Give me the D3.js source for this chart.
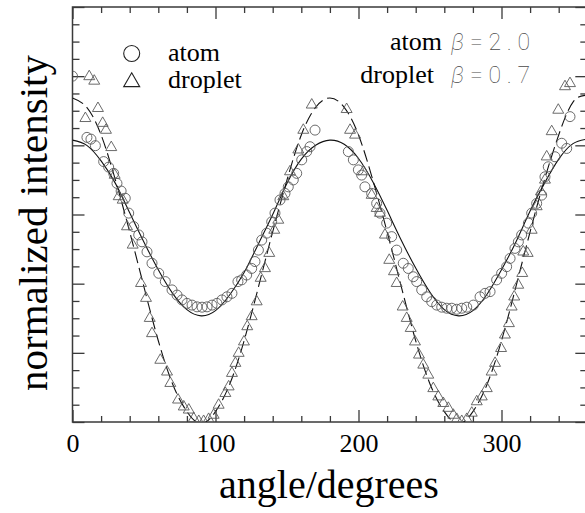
<!DOCTYPE html>
<html>
<head>
<meta charset="utf-8">
<script src="https://cdn.jsdelivr.net/npm/d3@7"></script>
<style>
  body { margin: 0; background: #fff; }
  svg { display: block; }
</style>
</head>
<body>
<div class="chart"></div>
<script>
// angle (degrees) and normalized intensity
const atomAngle = [0, 10.1, 12.9, 16.0, 21.8, 25.3, 28.8, 31.1, 34.0, 36.9, 39.3, 42.8, 46.3, 48.6, 52.1, 55.6,
    60.3, 64.9, 69.6, 73.1, 76.6, 80.1, 83.6, 87.1, 90.6, 94.1, 97.6, 101.0, 104.5, 108.0, 111.5, 115.7,
    118.3, 121.8, 125.3, 127.6, 130.0, 132.3, 135.8, 139.3, 141.6, 145.1, 148.6, 150.9, 154.4, 156.8, 160.3,
    163.8, 166.1, 169.6, 192.9, 196.4, 199.9, 202.2, 204.5, 209.2, 212.7, 215.0, 219.7, 223.2, 226.7, 231.3,
    234.8, 238.3, 240.7, 244.2, 247.7, 251.2, 254.7, 258.2, 261.7, 265.2, 268.7, 272.2, 275.7, 280.3, 285.0,
    288.5, 292.0, 296.6, 300.1, 303.6, 306.0, 309.4, 311.8, 314.1, 318.8, 321.1, 324.6, 328.1, 330.4, 332.7,
    337.4, 342.1, 345.6, 347.9];
const atomValue = [1.0, .823, .818, .799, .753, .737, .719, .690, .668, .647, .604, .565, .541, .521, .492, .459,
    .430, .406, .382, .367, .353, .343, .338, .333, .332, .333, .338, .343, .353, .362, .372, .406,
    .411, .425, .444, .464, .497, .526, .546, .579, .604, .642, .661, .680, .700, .719, .758,
    .782, .796, .844, .782, .758, .729, .714, .680, .661, .632, .604, .575, .536, .497, .459,
    .444, .420, .406, .382, .362, .348, .338, .332, .329, .329, .326, .329, .332, .338, .362,
    .372, .377, .411, .430, .449, .473, .502, .521, .541, .575, .604, .632, .656, .709, .738,
    .767, .806, .791, .883];

const dropletAngle = [9.0, 11.7, 15.2, 17.8, 21.1, 23.4, 27.1, 29.5, 32.3, 35.1, 38.1, 42.1, 47.9, 51.4, 54.0, 55.6,
    61.4, 66.1, 68.4, 73.8, 77.8, 81.3, 84.8, 88.3, 91.7, 95.2, 98.7, 102.2, 106.9, 109.2, 111.5, 113.9, 116.2,
    119.9, 122.2, 125.3, 128.8, 131.6, 134.6, 137.6, 141.1, 143.9, 147.4, 152.1, 157.9, 161.4, 167.3,
    191.7, 194.1, 197.6, 203.4, 209.2, 212.7, 215.0, 218.5, 221.5, 224.8, 226.7, 230.9, 233.7, 236.5, 239.5,
    242.3, 245.3, 248.8, 252.3, 255.8, 259.3, 262.8, 266.3, 268.7, 272.2, 275.7, 279.2, 282.7, 286.2, 289.7,
    293.1, 295.5, 299.7, 302.4, 305.2, 307.1, 308.9, 311.7, 314.5, 315.2, 318.3, 321.1, 324.6, 327.6, 330.4,
    331.6, 335.1, 339.7, 344.4, 347.9];
const dropletValue = [.878, .999, .986, .907, .864, .844, .794, .714, .652, .642, .565, .512, .401, .358, .300, .256,
    .179, .145, .112, .064, .044, .035, .010, .002, .002, .008, .020, .049, .083, .102, .141, .170, .199,
    .232, .276, .305, .348, .416, .444, .488, .555, .584, .652, .724, .787, .844, .917,
    .904, .844, .830, .724, .656, .618, .604, .541, .468, .435, .401, .333, .300, .271, .232,
    .194, .165, .136, .097, .073, .054, .040, .020, .008, .002, .008, .026, .059, .073, .097,
    .145, .170, .213, .252, .285, .333, .362, .396, .430, .492, .488, .555, .623, .666, .700,
    .767, .840, .902, .970, .979];

// fitted curves, read every 10 degrees
const fitAngle = [0, 10, 20, 30, 40, 50, 60, 70, 80, 90, 100, 110, 120, 130, 140, 150, 160, 170, 180,
    190, 200, 210, 220, 230, 240, 250, 260, 270, 280, 290, 300, 310, 320, 330, 340, 350, 360];
const atomFit = [.815, .80, .755, .69, .605, .52, .44, .372, .325, .307, .322, .368, .432, .515, .60, .69, .76, .80, .815,
    .803, .762, .695, .612, .525, .445, .375, .325, .307, .322, .37, .44, .52, .61, .69, .76, .805, .818];
const dropletFit = [.937, .91, .83, .70, .55, .39, .235, .11, .03, -.005, .03, .11, .235, .39, .55, .70, .83, .91, .937,
    .91, .83, .70, .55, .39, .235, .11, .03, -.005, .03, .11, .235, .39, .55, .70, .83, .925, .945];

const xMajor = [0, 100, 200, 300];
const legendNames = ["atom", "droplet"];
const betaLines = [["atom", "\u03B2", "=2.0"], ["droplet", "\u03B2", "=0.7"]];

const width = 585, height = 513;
const margin = {top: 7, left: 72.5, bottom: 91, right: -2.3};
const x0 = margin.left, x1 = width - margin.right;
const y0 = height - margin.bottom, y1 = margin.top;

const svg = d3.select(".chart").append("svg")
    .attr("width", width)
    .attr("height", height);

const xScale = d3.scaleLinear().domain([0, 360]).range([x0, x1]);
const yScale = d3.scaleLinear().domain([0, 1.2]).range([y0, y1]);

svg.append("clipPath").attr("id", "plotclip")
    .append("rect")
    .attr("x", x0).attr("y", y1)
    .attr("width", x1 - x0).attr("height", y0 - y1);

const serif = "'Liberation Serif', 'Times New Roman', serif";
const axisColor = "#3a3a3a";

// minor + major ticks, all pointing inwards
const xMinor = d3.range(0, 361, 20).filter(d => d % 100 != 0);
const yMinor = d3.range(0, 1.2001, 0.05).filter((d, i) => i % 4 != 0);
const yMajor = d3.range(0, 1.2001, 0.2);

function styleAxis(g) {
    g.select(".domain").remove();
    g.selectAll("line").attr("stroke", axisColor).attr("stroke-width", 1.3);
}

svg.append("g").attr("transform", `translate(0,${y0})`)
    .call(d3.axisBottom(xScale).tickValues(xMinor).tickSize(-6).tickFormat(""))
    .call(styleAxis);
svg.append("g").attr("transform", `translate(0,${y0})`)
    .call(d3.axisBottom(xScale).tickValues(xMajor).tickSize(-12).tickPadding(12).tickFormat(d3.format("d")))
    .call(styleAxis)
    .selectAll("text")
    .attr("font-family", serif)
    .attr("font-size", 26)
    .attr("fill", "#000");

svg.append("g").attr("transform", `translate(0,${y1})`)
    .call(d3.axisTop(xScale).tickValues(xMinor).tickSize(-6).tickFormat(""))
    .call(styleAxis);
svg.append("g").attr("transform", `translate(0,${y1})`)
    .call(d3.axisTop(xScale).tickValues(xMajor).tickSize(-12).tickFormat(""))
    .call(styleAxis);

svg.append("g").attr("transform", `translate(${x0},0)`)
    .call(d3.axisLeft(yScale).tickValues(yMinor).tickSize(-7).tickFormat(""))
    .call(styleAxis);
svg.append("g").attr("transform", `translate(${x0},0)`)
    .call(d3.axisLeft(yScale).tickValues(yMajor).tickSize(-12).tickFormat(""))
    .call(styleAxis);
svg.append("g").attr("transform", `translate(${x1},0)`)
    .call(d3.axisRight(yScale).tickValues(yMinor).tickSize(-7).tickFormat(""))
    .call(styleAxis);
svg.append("g").attr("transform", `translate(${x1},0)`)
    .call(d3.axisRight(yScale).tickValues(yMajor).tickSize(-12).tickFormat(""))
    .call(styleAxis);

// frame
svg.append("rect")
    .attr("x", x0).attr("y", y1)
    .attr("width", x1 - x0).attr("height", y0 - y1)
    .attr("fill", "none")
    .attr("stroke", axisColor)
    .attr("stroke-width", 1.5);

const plot = svg.append("g").attr("clip-path", "url(#plotclip)");

const line = d3.line()
    .x(d => xScale(d[0]))
    .y(d => yScale(d[1]))
    .curve(d3.curveNatural);

plot.append("path")
    .datum(fitAngle.map((a, i) => [a, atomFit[i]]))
    .attr("d", line)
    .attr("fill", "none")
    .attr("stroke", "#111")
    .attr("stroke-width", 1.1);

plot.append("path")
    .datum(fitAngle.map((a, i) => [a, dropletFit[i]]))
    .attr("d", line)
    .attr("fill", "none")
    .attr("stroke", "#111")
    .attr("stroke-width", 1.1)
    .attr("stroke-dasharray", "12,5");

const markerColor = "#5a5a5a";
const tri = d3.symbol().type(d3.symbolTriangle).size(52);

plot.selectAll(".atom")
    .data(atomAngle.map((a, i) => [a, atomValue[i]]))
    .enter()
    .append("circle")
    .attr("class", "atom")
    .attr("cx", d => xScale(d[0]))
    .attr("cy", d => yScale(d[1]))
    .attr("r", 5)
    .attr("fill", "none")
    .attr("stroke", markerColor)
    .attr("stroke-width", 0.9);

plot.selectAll(".droplet")
    .data(dropletAngle.map((a, i) => [a, dropletValue[i]]))
    .enter()
    .append("path")
    .attr("class", "droplet")
    .attr("d", tri)
    .attr("transform", d => `translate(${xScale(d[0])},${yScale(d[1])})`)
    .attr("fill", "none")
    .attr("stroke", markerColor)
    .attr("stroke-width", 0.9);

// legend
const legend = svg.append("g").attr("id", "legend");
legend.selectAll("path")
    .data(legendNames)
    .enter()
    .append("path")
    .attr("d", (d, i) => i == 0 ? d3.symbol().type(d3.symbolCircle).size(201)() : d3.symbol().type(d3.symbolTriangle).size(111)())
    .attr("transform", (d, i) => `translate(131.7,${53.5 + i * 28.5})`)
    .attr("fill", "none")
    .attr("stroke", "#222")
    .attr("stroke-width", 1.1);
legend.selectAll("text")
    .data(legendNames)
    .enter()
    .append("text")
    .attr("x", 168)
    .attr("y", (d, i) => 61 + i * 27)
    .attr("font-family", serif)
    .attr("font-size", 26)
    .text(d => d);

// beta annotations
const notes = svg.append("g");
betaLines.forEach((b, i) => {
    const yy = 50 + i * 33;
    notes.append("text")
        .attr("x", 442 - i * 8)
        .attr("y", yy)
        .attr("text-anchor", "end")
        .attr("font-family", serif)
        .attr("font-size", 26)
        .text(b[0]);
    const t = notes.append("text")
        .attr("x", 451)
        .attr("y", yy)
        .attr("font-family", "Roboto, 'Open Sans', sans-serif")
        .attr("font-weight", 100)
        .attr("font-size", 23)
        .attr("fill", "#4a4a4a")
        .attr("textLength", 79)
        .attr("lengthAdjust", "spacing");
    t.append("tspan").attr("font-style", "italic").text(b[1]);
    t.append("tspan").text(b[2]);
});

// axis titles
svg.append("text")
    .attr("x", 329)
    .attr("y", 498)
    .attr("text-anchor", "middle")
    .attr("font-family", serif)
    .attr("font-size", 40)
    .text("angle/degrees");

svg.append("text")
    .attr("transform", "translate(47,223)rotate(-90)")
    .attr("text-anchor", "middle")
    .attr("font-family", serif)
    .attr("font-size", 41)
    .text("normalized intensity");
</script>
</body>
</html>
